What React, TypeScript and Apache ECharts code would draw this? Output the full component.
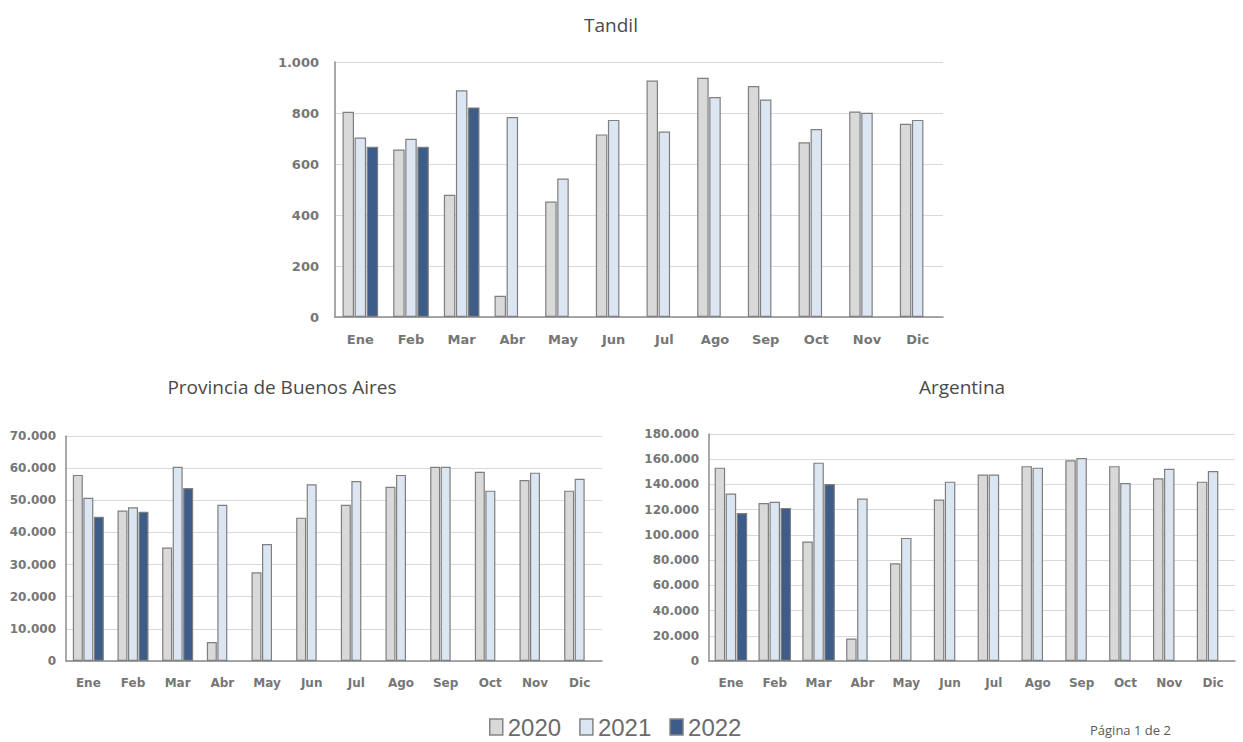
import React, { useEffect, useRef } from "react";
import * as echarts from "echarts";

const months = ["Ene", "Feb", "Mar", "Abr", "May", "Jun", "Jul", "Ago", "Sep", "Oct", "Nov", "Dic"];
const years = ["2020", "2021", "2022"];

const tandil2020 = [805, 657, 479, 83, 453, 716, 927, 938, 906, 685, 806, 758];
const tandil2021 = [704, 699, 889, 784, 543, 773, 727, 863, 853, 737, 801, 773];
const tandil2022 = [668, 668, 822, null, null, null, null, null, null, null, null, null];

const pba2020 = [57900, 46800, 35300, 5900, 27600, 44600, 48600, 54200, 60400, 58900, 56300, 53000];
const pba2021 = [50800, 47800, 60400, 48600, 36400, 55000, 56000, 57900, 60400, 53000, 58600, 56700];
const pba2022 = [44900, 46400, 53800, null, null, null, null, null, null, null, null, null];

const arg2020 = [153300, 125200, 94800, 17800, 77500, 128000, 147800, 154500, 159100, 154500, 144900, 142200];
const arg2021 = [132800, 126200, 157300, 128800, 97600, 142200, 147800, 153300, 161000, 141100, 152500, 150700];
const arg2022 = [117400, 121400, 140300, null, null, null, null, null, null, null, null, null];

const colors = ["#d9d9d9", "#dce6f2", "#3e5c88"];
const fmt = (v: number) => String(v).replace(/\B(?=(\d{3})+(?!\d))/g, ".");

export default function App() {
  const ref = useRef<HTMLDivElement>(null);
  useEffect(() => {
    const chart = echarts.init(ref.current!, null, { renderer: "svg" });
    const grids = [
      { left: 335, top: 62, width: 608, height: 255 },
      { left: 66, top: 436, width: 536, height: 225 },
      { left: 709, top: 434, width: 526, height: 227 },
    ];
    const maxes = [1000, 70000, 180000];
    const intervals = [200, 10000, 20000];
    const margins = [16, 10, 10];
    const xFont = [13, 12, 12];
    const yFont = [13, 12, 12];
    const data = [
      [tandil2020, tandil2021, tandil2022],
      [pba2020, pba2021, pba2022],
      [arg2020, arg2021, arg2022],
    ];
    const barWidths = [11.5, 10, 10.5];
    const series: any[] = [];
    data.forEach((set, gi) => {
      set.forEach((vals, yi) => {
        series.push({
          type: "bar",
          name: years[yi],
          xAxisIndex: gi,
          yAxisIndex: gi,
          data: vals,
          barWidth: barWidths[gi],
          barGap: "5%",
          itemStyle: { color: colors[yi], borderColor: "#7f7f7f", borderWidth: 1.2 },
        });
      });
    });
    chart.setOption({
      animation: false,
      backgroundColor: "#ffffff",
      grid: grids,
      legend: {
        data: years,
        left: 484,
        top: 710,
        icon: "rect",
        itemWidth: 13,
        itemHeight: 16,
        itemGap: 18,
        textStyle: { fontSize: 24, color: "#6b6b6b", fontFamily: "Liberation Sans Narrow, Liberation Sans, sans-serif" },
        itemStyle: { borderColor: "#848484", borderWidth: 1.5 },
      },
      xAxis: grids.map((_, i) => ({
        type: "category",
        gridIndex: i,
        data: months,
        axisTick: { show: false },
        axisLine: { lineStyle: { color: "#8c8c8c", width: 1.5 } },
        axisLabel: {
          color: "#767676",
          fontWeight: "bold",
          fontSize: xFont[i],
          fontFamily: "DejaVu Sans, sans-serif",
          margin: 16,
        },
      })),
      yAxis: grids.map((_, i) => ({
        type: "value",
        gridIndex: i,
        min: 0,
        max: maxes[i],
        interval: intervals[i],
        axisLine: { show: true, lineStyle: { color: "#8c8c8c", width: 1.5 } },
        axisTick: { show: false },
        splitLine: { lineStyle: { color: "#d9d9d9", width: 1 } },
        axisLabel: {
          color: "#767676",
          fontWeight: "bold",
          fontSize: yFont[i],
          fontFamily: "DejaVu Sans, sans-serif",
          margin: margins[i],
          formatter: (v: number) => fmt(v),
        },
      })),
      graphic: [
        { type: "text", x: 611, y: 25, style: { text: "Tandil", fontSize: 19, fill: "#4a4a4a", fontFamily: "Open Sans, sans-serif", textAlign: "center", textVerticalAlign: "middle" } },
        { type: "text", x: 282, y: 387, style: { text: "Provincia de Buenos Aires", fontSize: 19, fill: "#4a4a4a", fontFamily: "Open Sans, sans-serif", textAlign: "center", textVerticalAlign: "middle" } },
        { type: "text", x: 962, y: 387, style: { text: "Argentina", fontSize: 19, fill: "#4a4a4a", fontFamily: "Open Sans, sans-serif", textAlign: "center", textVerticalAlign: "middle" } },
        { type: "text", x: 1090, y: 723, style: { text: "Página 1 de 2", fontSize: 13, fill: "#595959", fontFamily: "Open Sans, sans-serif" } },
      ],
      series,
    });
    return () => chart.dispose();
  }, []);
  return <div ref={ref} style={{ position: "fixed", left: 0, top: 0, width: 1243, height: 742 }} />;
}
